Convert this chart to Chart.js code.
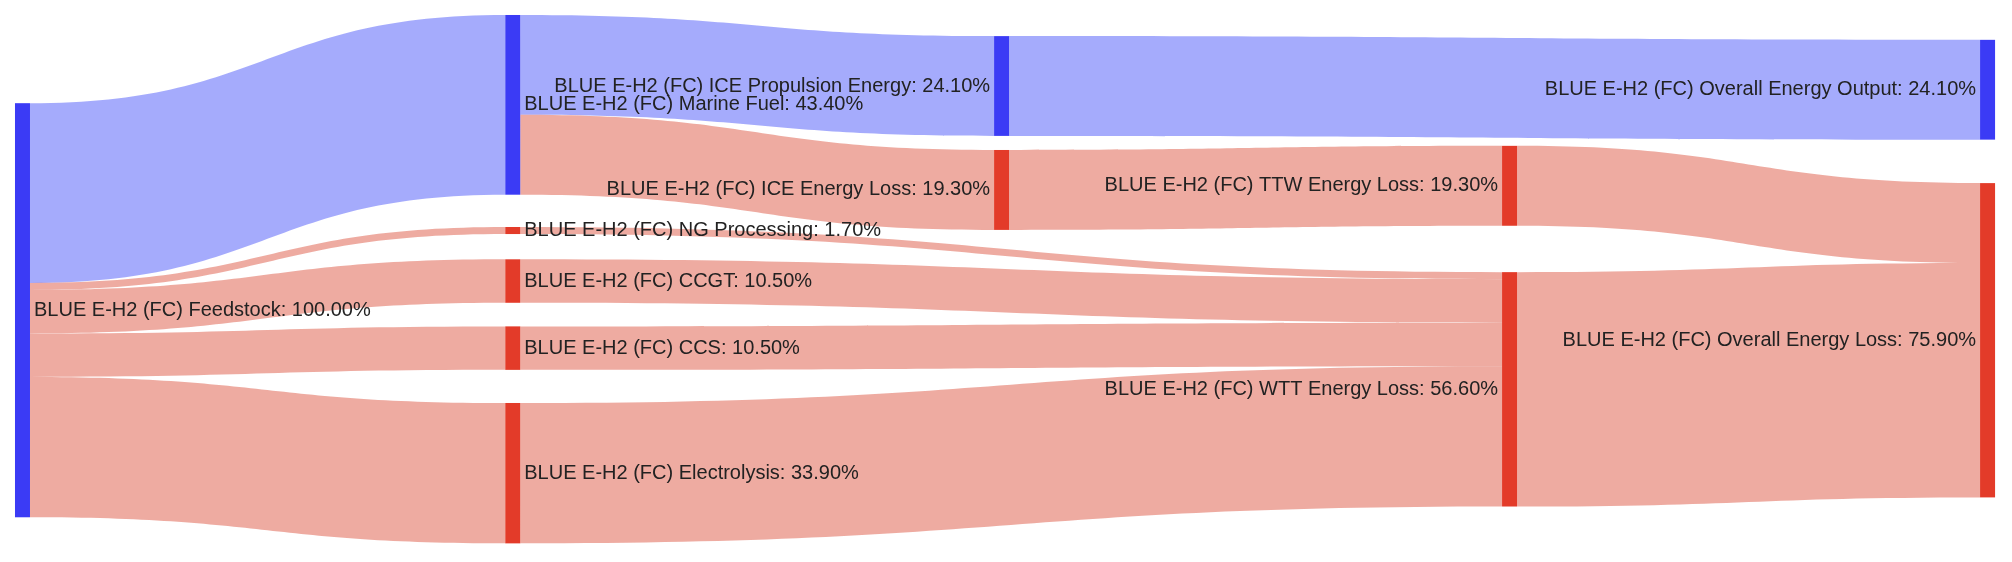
<!DOCTYPE html>
<html><head><meta charset="utf-8">
<script src="https://cdn.jsdelivr.net/npm/chart.js@4"></script>
<style>html,body{margin:0;padding:0;background:#fff}#w{width:2012px;height:562px}</style>
</head><body><div id="w"><canvas id="c"></canvas></div>
<script>
const nodeLabels = ["Feedstock","Marine Fuel","NG Processing","CCGT","CCS","Electrolysis","ICE Propulsion Energy","ICE Energy Loss","TTW Energy Loss","WTT Energy Loss","Overall Energy Output","Overall Energy Loss"];
const nodeValues = [100,43.4,1.7,10.5,10.5,33.9,24.1,19.3,19.3,56.6,24.1,75.9];
const nodeKinds = ["blue","blue","red","red","red","red","blue","red","red","red","blue","red"];
const nodeColumn = [0,1,1,1,1,1,2,2,3,3,4,4];
const nodeTop = [21.3,0,51.2,59,75.2,93.7,5.1,32.6,31.6,62.1,6.0,40.6];
const linkSource = [0,0,0,0,0,1,1,6,7,2,3,4,5,8,9];
const linkTarget = [1,2,3,4,5,6,7,10,8,9,9,9,9,11,11];
const linkValues = [43.4,1.7,10.5,10.5,33.9,24.1,19.3,24.1,19.3,1.7,10.5,10.5,33.9,19.3,56.6];
const prefix = "BLUE E-H2 (FC) ";

const colX = [0,0.998,1.993,3.027,4];
const COL = {blue:{node:"#3b3bf5",link:"rgba(110,120,250,0.62)"},red:{node:"#e33b29",link:"rgba(228,120,104,0.62)"}};
const NW = 15;
const sankey = {
  id:'sankey',
  afterDatasetsDraw(chart){
    const {ctx, scales:{x,y}} = chart;
    const px = i => x.getPixelForValue(colX[nodeColumn[i]]);
    const py = v => y.getPixelForValue(v);
    const outOff = nodeTop.slice(), inOff = nodeTop.slice();
    ctx.save();
    linkSource.forEach((s,k)=>{
      const t = linkTarget[k], v = linkValues[k];
      const s0 = outOff[s], t0 = inOff[t]; outOff[s]+=v; inOff[t]+=v;
      const x0 = px(s)+NW, x1 = px(t), xm = (x0+x1)/2;
      const ya = py(s0), yb = py(s0+v), yc = py(t0), yd = py(t0+v);
      ctx.beginPath();
      ctx.moveTo(x0,ya); ctx.bezierCurveTo(xm,ya,xm,yc,x1,yc);
      ctx.lineTo(x1,yd); ctx.bezierCurveTo(xm,yd,xm,yb,x0,yb);
      ctx.closePath();
      ctx.fillStyle = COL[nodeKinds[t]].link;
      ctx.fill();
    });
    nodeLabels.forEach((l,i)=>{
      const x0 = px(i), y0 = py(nodeTop[i]), y1 = py(nodeTop[i]+nodeValues[i]);
      ctx.fillStyle = COL[nodeKinds[i]].node;
      ctx.fillRect(x0,y0,NW,Math.max(2,y1-y0));
    });
    ctx.font = '20px "Liberation Sans", Arial, sans-serif';
    ctx.textBaseline = 'middle';
    ctx.fillStyle = '#222';
    nodeLabels.forEach((l,i)=>{
      const x0 = px(i), yc = (py(nodeTop[i])+py(nodeTop[i]+nodeValues[i]))/2;
      const txt = prefix + l + ": " + nodeValues[i].toFixed(2) + "%";
      if (nodeColumn[i] < 2){ ctx.textAlign='left'; ctx.fillText(txt, x0+NW+4, yc); }
      else { ctx.textAlign='right'; ctx.fillText(txt, x0-4, yc); }
    });
    ctx.restore();
  }
};
new Chart(document.getElementById('c'),{
  type:'scatter',
  data:{datasets:[{data:nodeColumn.map((c,i)=>({x:colX[c],y:nodeTop[i]})),pointRadius:0}]},
  options:{responsive:true,maintainAspectRatio:false,animation:false,
    layout:{padding:0},
    plugins:{legend:{display:false},tooltip:{enabled:false}},
    scales:{x:{type:'linear',display:false,min:-0.0305,max:4.065},
            y:{type:'linear',display:false,reverse:true,min:-3.62,max:132.1}}},
  plugins:[sankey]
});
</script></body></html>
